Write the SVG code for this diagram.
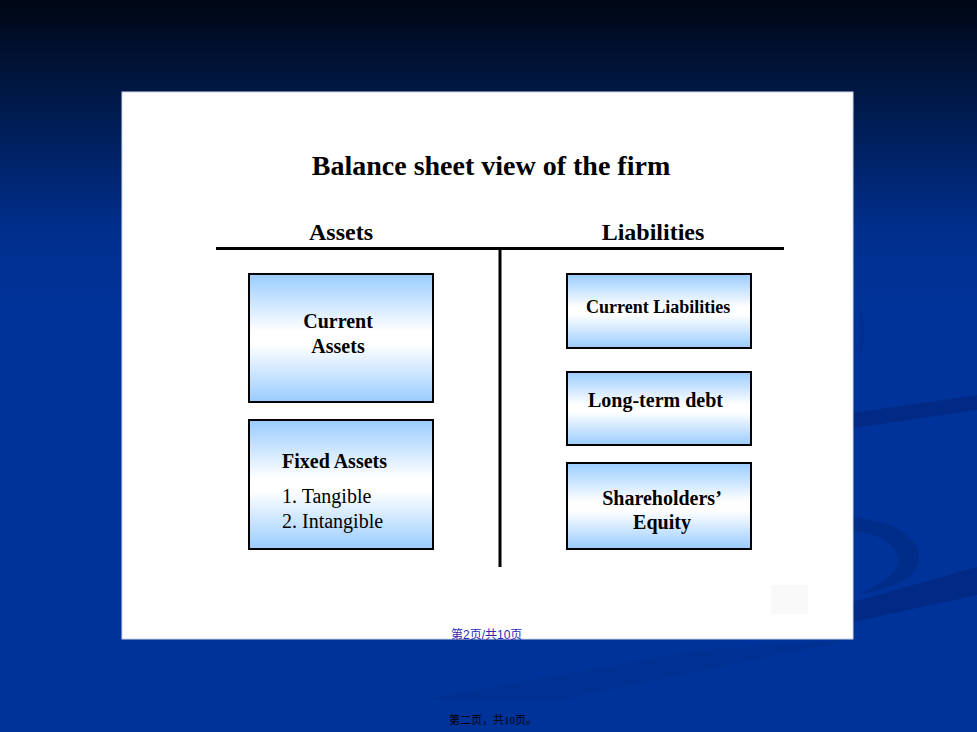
<svg xmlns="http://www.w3.org/2000/svg" width="977" height="732" viewBox="0 0 977 732">
<defs>
<linearGradient id="bg" x1="0" y1="0" x2="0" y2="310" gradientUnits="userSpaceOnUse">
<stop offset="0" stop-color="#000714"/>
<stop offset="0.3" stop-color="#001846"/>
<stop offset="0.75" stop-color="#002f8e"/>
<stop offset="1" stop-color="#003399"/>
</linearGradient>
<linearGradient id="box" x1="0" y1="0" x2="0" y2="1">
<stop offset="0" stop-color="#99ccff"/>
<stop offset="0.45" stop-color="#ffffff"/>
<stop offset="0.55" stop-color="#ffffff"/>
<stop offset="1" stop-color="#99ccff"/>
</linearGradient>
<style>
.node rect{fill:url(#box);stroke:#000;stroke-width:2}
.b{font-family:"Liberation Serif","Times New Roman",serif;font-weight:bold;fill:#000}
.r{font-family:"Liberation Serif","Times New Roman",serif;fill:#000}
.sw{fill:#002a86}
</style>
</defs>
<rect x="0" y="0" width="977" height="732" fill="url(#bg)"/>
<path class="sw" d="M853,413 L977,395 L977,410 L853,428 Z"/>
<path class="sw" opacity="0.8" d="M853,517 C905,522 925,545 918,565 C910,582 885,590 860,594 C885,582 902,570 898,556 C892,540 872,532 853,532 Z"/>
<path class="sw" d="M853,602 L977,567 L977,595 L853,622 Z"/>
<path class="sw" opacity="0.5" d="M858,300 C866,318 866,345 858,363 C862,345 862,318 858,300 Z"/>
<path fill="#002d8c" opacity="0.5" d="M420,700 L700,650 L850,640 L560,700 Z"/>
<rect x="122" y="92" width="731" height="547" fill="#ffffff" stroke="#d0d8e8" stroke-width="1"/>
<rect x="771" y="585" width="37" height="29" fill="#f9f9f9"/>
<text class="b" x="491" y="175" font-size="28" text-anchor="middle">Balance sheet view of the firm</text>
<text class="b" x="341" y="240" font-size="24" text-anchor="middle">Assets</text>
<text class="b" x="653" y="240" font-size="24" text-anchor="middle">Liabilities</text>
<g id="connectors" stroke="#000" stroke-width="3" fill="none">
<line x1="216" y1="248.5" x2="784" y2="248.5"/>
<line x1="500" y1="248" x2="500" y2="567"/>
</g>
<g id="current-assets" class="node">
<rect x="249" y="274" width="184" height="128"/>
<text class="b" x="338" y="328" font-size="20" text-anchor="middle">Current</text>
<text class="b" x="338" y="353" font-size="20" text-anchor="middle">Assets</text>
</g>
<g id="fixed-assets" class="node">
<rect x="249" y="420" width="184" height="129"/>
<text class="b" x="282" y="468" font-size="20">Fixed Assets</text>
<text class="r" x="282" y="503" font-size="20">1. Tangible</text>
<text class="r" x="282" y="528" font-size="20">2. Intangible</text>
</g>
<g id="current-liabilities" class="node">
<rect x="567" y="274" width="184" height="74"/>
<text class="b" x="586" y="313" font-size="18">Current Liabilities</text>
</g>
<g id="long-term-debt" class="node">
<rect x="567" y="372" width="184" height="73"/>
<text class="b" x="588" y="407" font-size="20">Long-term debt</text>
</g>
<g id="shareholders-equity" class="node">
<rect x="567" y="463" width="184" height="86"/>
<text class="b" x="662" y="505" font-size="20" text-anchor="middle">Shareholders’</text>
<text class="b" x="662" y="529" font-size="20" text-anchor="middle">Equity</text>
</g>
<text x="451" y="639" font-size="12" fill="#2a2ab4" font-family="'Liberation Sans','Noto Sans CJK SC',sans-serif">第2页/共10页</text>
<text x="449" y="724" font-size="11" fill="#000" font-family="'Liberation Serif','Noto Sans CJK SC',serif">第二页，共10页。</text>
</svg>
